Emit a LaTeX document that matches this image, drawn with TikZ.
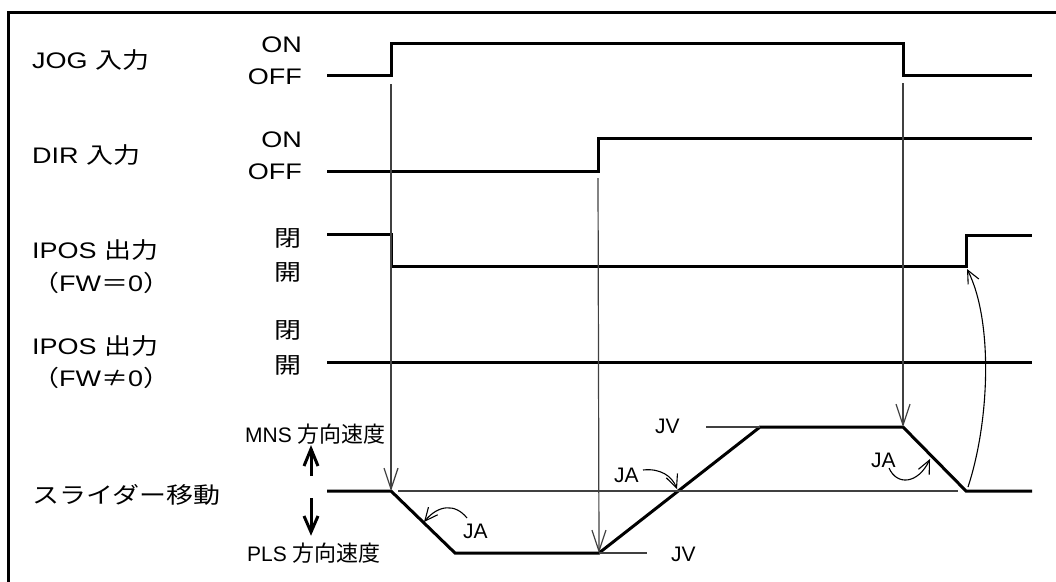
\documentclass[tikz,border=0pt]{standalone}
\usepackage{fontspec}
\setmainfont{Liberation Sans}
\newfontfamily\wlat[FakeStretch=1.2]{Liberation Sans}
\newfontfamily\wjp[FakeStretch=1.2]{Noto Sans CJK JP}
\newfontfamily\sjp{Noto Sans CJK JP}
\usetikzlibrary{arrows.meta}
\newcommand{\bigfnt}{\fontsize{22.5}{26}\selectfont\wlat}
\newcommand{\smallfnt}{\fontsize{21}{24}\selectfont}
\newcommand{\bj}[1]{{\wjp #1}}
\newcommand{\sj}[1]{{\fontsize{22}{24}\selectfont\sjp #1}}
\tikzset{
  x=1pt, y=-1pt,
  sig/.style={line width=3pt},
  thinln/.style={line width=1.2pt, black!75},
  varr/.style={thinln, -{Straight Barb[length=21pt,width=14pt,line width=1.2pt]}},
  carr/.style={line width=1.1pt, -{Straight Barb[length=13pt,width=12pt,line width=1.1pt]}},
  bigarr/.style={line width=3pt, line join=miter},
  lbl/.style={anchor=west, inner sep=0pt, font=\bigfnt},
  lvl/.style={anchor=east, inner sep=0pt, font=\bigfnt},
  slbl/.style={anchor=west, inner sep=0pt, font=\smallfnt},
}
\begin{document}
\begin{tikzpicture}
\useasboundingbox (0,0) rectangle (1056,581);
% frame
\draw[line width=3pt] (8,600) -- (8,12) -- (1070,12);

% left labels
\node[lbl] (jog) at (32,60) {JOG \bj{入力}};
\node[lbl] (dir) at (32,155) {DIR \bj{入力}};
\node[lbl] (ipa) at (32,250) {IPOS \bj{出力}};
\node[lbl] (ipaf) at (32,283) {\bj{（}FW\bj{＝}0\bj{）}};
\node[lbl] (ipb) at (32,346) {IPOS \bj{出力}};
\node[lbl] (ipbf) at (32,378) {\bj{（}FW\bj{≠}0\bj{）}};
\node[lbl] (sld) at (32,495) {\bj{スライダー移動}};

% level labels
\node[lvl] (on1) at (302,45) {ON};
\node[lvl] (off1) at (302,77) {OFF};
\node[lvl] (on2) at (302,140) {ON};
\node[lvl] (off2) at (302,172) {OFF};
\node[lvl] (c1) at (302,238) {\bj{閉}};
\node[lvl] (o1) at (302,272) {\bj{開}};
\node[lvl] (c2) at (302,330) {\bj{閉}};
\node[lvl] (o2) at (302,365) {\bj{開}};
\node[slbl] (mns) at (245,434) {MNS \sj{方向速度}};
\node[slbl] (pls) at (247,553) {PLS \sj{方向速度}};

% direction arrows
\coordinate (upA) at (311,476); \coordinate (upB) at (311,449);
\coordinate (dnA) at (311,498); \coordinate (dnB) at (311,532);
\draw[bigarr] (upA) -- (upB);
\draw[bigarr] (304,466) -- (upB) -- (318,466);
\draw[bigarr] (dnA) -- (dnB);
\draw[bigarr] (304,516) -- (dnB) -- (318,516);

% signals
\coordinate (jog0) at (327,75);
\coordinate (jogr) at (391,75);
\coordinate (jogf) at (903,75);
\draw[sig] (jog0) -- (jogr) -- (391,43) -- (903,43) -- (jogf) -- (1032,75);
\draw[sig] (327,171) -- (598,171) -- (598,138) -- (1032,138);
\coordinate (iprise) at (966,266);
\draw[sig] (327,234) -- (391,234) -- (391,266) -- (iprise) -- (966,235) -- (1032,235);
\draw[sig] (327,362) -- (1032,362);
\coordinate (s1) at (391,491);
\coordinate (s2) at (455,553);
\coordinate (s3) at (599,553);
\coordinate (s4) at (760,427);
\coordinate (s5) at (903,427);
\coordinate (s6) at (966,491);
\draw[sig] (327,491) -- (s1) -- (s2) -- (s3) -- (s4) -- (s5) -- (s6) -- (1032,491);

% thin reference lines
\draw[thinln] (398,491) -- (958,491);
\draw[thinln] (706,427) -- (s4);
\draw[thinln] (s3) -- (647,553);

% event arrows
\coordinate (a1) at (391,84);
\coordinate (a2) at (598,178);
\coordinate (a3) at (903,83);
\draw[varr] (a1) -- (s1);
\draw[varr] (a2) -- (s3);
\draw[varr] (a3) -- (s5);

% JV labels
\node[slbl] (jv1) at (655,426) {JV};
\node[slbl] (jv2) at (671,554) {JV};

% JA labels
\node[slbl] (ja1) at (463,531) {JA};
\node[slbl] (ja2) at (614,475) {JA};
\node[slbl] (ja3) at (871,460) {JA};
\coordinate (ja1e) at (424,522);
\coordinate (ja2e) at (677,489);
\coordinate (ja3e) at (930,459);
\draw[carr] (467,518) .. controls (455,503) and (438,505) .. (ja1e);
\draw[carr] (643,470) .. controls (660,468) and (672,476) .. (ja2e);
\draw[carr] (889,468) .. controls (897,486) and (918,484) .. (ja3e);

% final curve
\coordinate (cst) at (968,487);
\draw[carr] (cst) .. controls (990,420) and (993,320) .. (967,269);
\end{tikzpicture}
\end{document}
